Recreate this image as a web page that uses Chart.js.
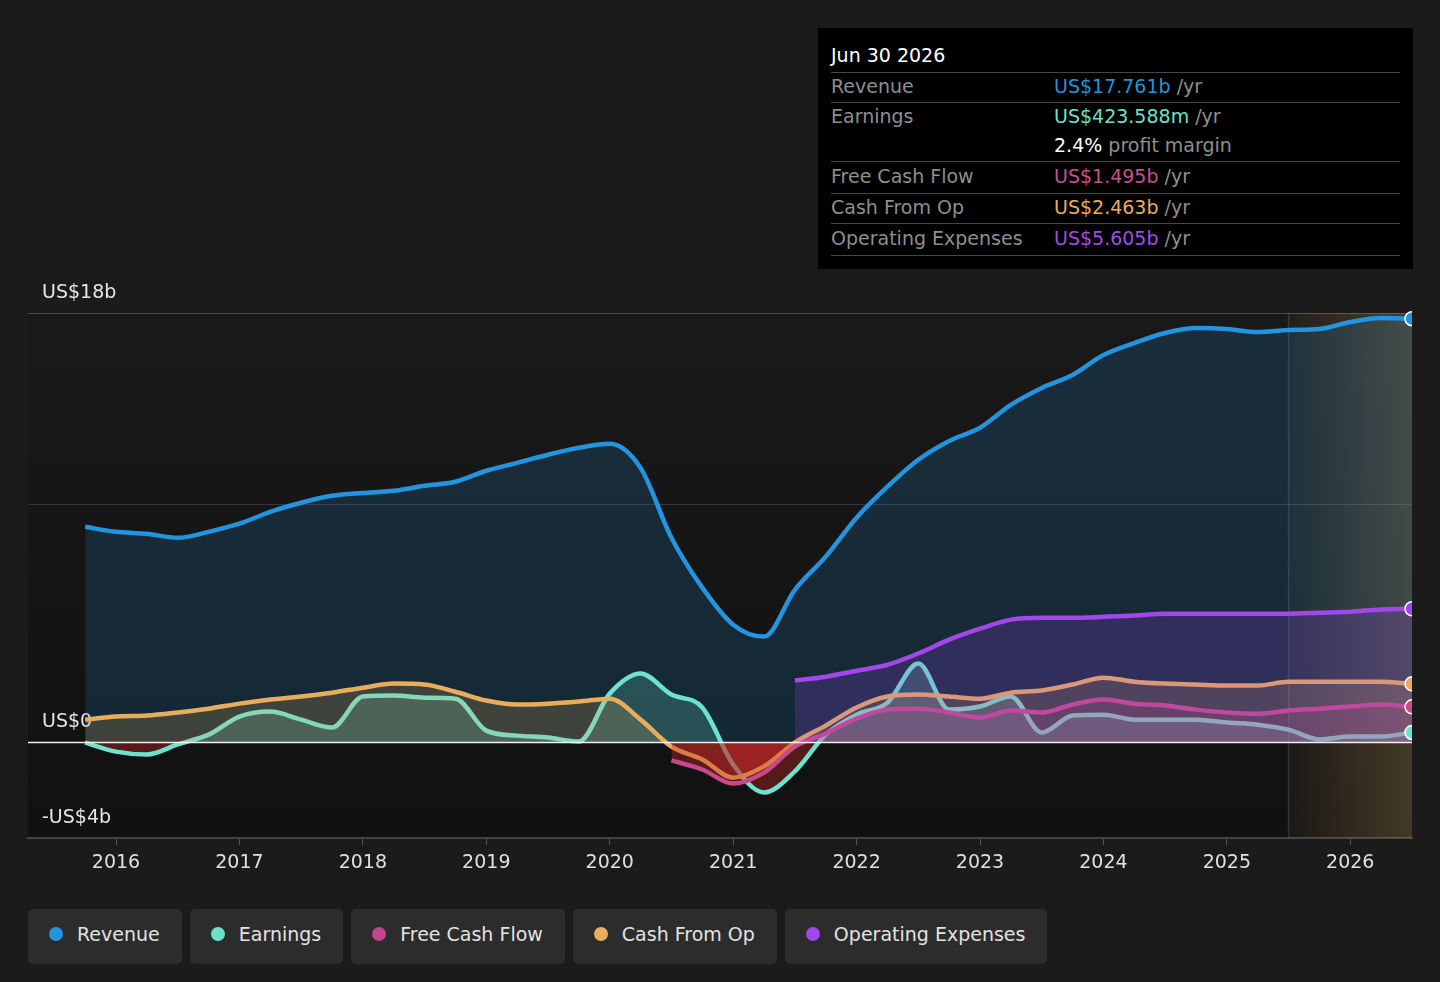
<!DOCTYPE html>
<html>
<head>
<meta charset="utf-8">
<script src="https://cdn.jsdelivr.net/npm/chart.js@4.4.1/dist/chart.umd.min.js"></script>
<style>
html,body{margin:0;padding:0;background:#1b1b1b;width:1440px;height:982px;overflow:hidden;font-family:"DejaVu Sans",sans-serif;}
#wrap{position:absolute;left:0;top:0;width:1440px;height:900px;}
#tip{position:absolute;left:818px;top:28px;width:595px;height:241px;background:#000;box-sizing:border-box;padding:0 13px;font-size:19px;}
#tip .row{display:flex;align-items:center;box-sizing:border-box;border-bottom:1px solid #464646;padding-bottom:4px;}
#tip .row.nb{border-bottom:none;}
#tip .lab{width:223px;color:#8e8e8e;}
#tip .val .u{color:#8e8e8e;}
#tip .title{color:#fff;padding-top:10px;padding-bottom:0;height:45px;}
#legend{position:absolute;left:28px;top:909px;display:flex;gap:8px;}
.li{height:55px;box-sizing:border-box;padding:0 22px 6px 21px;background:#2c2c2c;border-radius:5px;display:flex;align-items:center;color:#e2e2e2;font-size:19px;}
.li .d{width:14px;height:14px;border-radius:50%;margin-right:14px;}
</style>
</head>
<body>
<div id="wrap"><canvas id="c" width="1440" height="900"></canvas></div>
<div id="tip">
  <div class="row title">Jun 30 2026</div>
  <div class="row" style="height:30px"><span class="lab">Revenue</span><span class="val"><span style="color:#2394df">US$17.761b</span> <span class="u">/yr</span></span></div>
  <div class="row nb" style="height:29px"><span class="lab">Earnings</span><span class="val"><span style="color:#6de0c8">US$423.588m</span> <span class="u">/yr</span></span></div>
  <div class="row" style="height:30px"><span class="lab"></span><span class="val"><span style="color:#fff">2.4%</span> <span class="u">profit margin</span></span></div>
  <div class="row" style="height:32px"><span class="lab">Free Cash Flow</span><span class="val"><span style="color:#c9508a">US$1.495b</span> <span class="u">/yr</span></span></div>
  <div class="row" style="height:30px"><span class="lab">Cash From Op</span><span class="val"><span style="color:#e8ad5c">US$2.463b</span> <span class="u">/yr</span></span></div>
  <div class="row" style="height:32px"><span class="lab">Operating Expenses</span><span class="val"><span style="color:#a34be8">US$5.605b</span> <span class="u">/yr</span></span></div>
</div>
<div id="legend">
  <div class="li"><span class="d" style="background:#2394df"></span>Revenue</div>
  <div class="li"><span class="d" style="background:#6de0c8"></span>Earnings</div>
  <div class="li"><span class="d" style="background:#c0478a"></span>Free Cash Flow</div>
  <div class="li"><span class="d" style="background:#e8ae60"></span>Cash From Op</div>
  <div class="li"><span class="d" style="background:#a046ee"></span>Operating Expenses</div>
</div>
<script>
// ---- data (US$ billions, quarterly) ----
const quarters = [2015.75,2016,2016.25,2016.5,2016.75,2017,2017.25,2017.5,2017.75,2018,2018.25,2018.5,2018.75,2019,2019.25,2019.5,2019.75,2020,2020.25,2020.5,2020.75,2021,2021.25,2021.5,2021.75,2022,2022.25,2022.5,2022.75,2023,2023.25,2023.5,2023.75,2024,2024.25,2024.5,2024.75,2025,2025.25,2025.5,2025.75,2026,2026.25,2026.5];
const revenue = [9.04,8.83,8.75,8.58,8.83,9.17,9.67,10.05,10.34,10.46,10.55,10.76,10.93,11.39,11.72,12.06,12.35,12.52,11.51,8.58,6.49,4.94,4.44,6.40,7.79,9.42,10.72,11.85,12.64,13.19,14.15,14.86,15.40,16.24,16.74,17.16,17.37,17.33,17.20,17.29,17.33,17.62,17.79,17.761];
const earnings = [0.0,-0.38,-0.50,-0.08,0.33,1.09,1.30,0.96,0.63,1.93,1.97,1.88,1.84,0.50,0.29,0.21,0.04,2.05,2.89,2.01,1.47,-0.92,-2.09,-1.21,0.33,1.17,1.67,3.31,1.38,1.51,1.93,0.42,1.13,1.17,0.96,0.96,0.96,0.84,0.75,0.54,0.13,0.25,0.25,0.424];
const cashFromOp = [0.96,1.09,1.13,1.26,1.42,1.63,1.80,1.93,2.09,2.30,2.47,2.43,2.13,1.76,1.59,1.63,1.72,1.84,0.96,-0.17,-0.71,-1.47,-1.00,0.0,0.71,1.47,1.93,2.01,1.93,1.84,2.09,2.18,2.43,2.72,2.55,2.47,2.43,2.39,2.39,2.55,2.55,2.55,2.55,2.463];
const freeCashFlow = [null,null,null,null,null,null,null,null,null,null,null,null,null,null,null,null,null,null,null,-0.75,-1.13,-1.72,-1.26,-0.17,0.38,1.00,1.38,1.42,1.26,1.05,1.34,1.26,1.59,1.80,1.63,1.55,1.38,1.26,1.21,1.34,1.42,1.51,1.59,1.495];
const operatingExpenses = [null,null,null,null,null,null,null,null,null,null,null,null,null,null,null,null,null,null,null,null,null,null,null,2.60,2.76,3.01,3.26,3.73,4.31,4.77,5.15,5.23,5.23,5.27,5.32,5.40,5.40,5.40,5.40,5.40,5.44,5.48,5.58,5.605];
const yearTicks = [2016,2017,2018,2019,2020,2021,2022,2023,2024,2025,2026];
const yTicks = [-4,0,10,18];
const yLabels = {'-4':'-US$4b','0':'US$0','10':'','18':'US$18b'};
const forecastStart = 2025.5;

const pts = arr => arr.map((v,i)=>({x:quarters[i], y:v}));
const last = quarters.length-1;

function ds(label, arr, color, fillAbove, order){
  return {
    label, data: pts(arr), order, endColor: color,
    borderColor: color, borderWidth: 4.5,
    fill: {target:'origin', above: fillAbove, below: 'rgba(200,40,40,0.38)'},
    cubicInterpolationMode: 'monotone',
    pointRadius: 0, pointHoverRadius: 0,
    clip: {left:0,right:0,top:6,bottom:0},
    spanGaps:false
  };
}

const bgPlugin = {
  id:'bg',
  beforeDraw(chart){
    const {ctx, chartArea:a, scales} = chart;
    ctx.save();
    const g = ctx.createLinearGradient(0,a.top,0,a.bottom);
    g.addColorStop(0,'#191919'); g.addColorStop(1,'#111111');
    ctx.fillStyle = g;
    ctx.fillRect(a.left,a.top,a.right-a.left,a.bottom-a.top);
    const ys = scales.y;
    yTicks.forEach(v=>{
      if(v===0||v===-4) return;
      const p = Math.round(ys.getPixelForValue(v))+0.5;
      ctx.strokeStyle = v===18 ? '#4a4a4a' : '#363636'; ctx.lineWidth=1;
      ctx.beginPath(); ctx.moveTo(a.left,p); ctx.lineTo(a.right,p); ctx.stroke();
    });
    ctx.restore();
  },
  beforeDatasetsDraw(chart){
    const {ctx, chartArea:a, scales} = chart;
    ctx.save();
    const fx = scales.x.getPixelForValue(forecastStart);
    const fg = ctx.createLinearGradient(fx,0,a.right,0);
    fg.addColorStop(0,'rgba(200,160,90,0.05)'); fg.addColorStop(1,'rgba(200,160,90,0.28)');
    ctx.fillStyle = fg;
    ctx.fillRect(fx,a.top,a.right-fx,a.bottom-a.top);
    ctx.strokeStyle='rgba(255,255,255,0.13)'; ctx.lineWidth=1.5;
    ctx.beginPath(); ctx.moveTo(fx,a.top); ctx.lineTo(fx,a.bottom); ctx.stroke();
    ctx.restore();
  },
  afterDatasetsDraw(chart){
    const {ctx, chartArea:a, scales} = chart;
    const p = scales.y.getPixelForValue(0);
    ctx.save();
    ctx.strokeStyle='#f0f0f0'; ctx.lineWidth=1.5;
    ctx.beginPath(); ctx.moveTo(a.left,p); ctx.lineTo(a.right,p); ctx.stroke();
    // end-point markers, clipped at the chart area like the reference
    ctx.beginPath(); ctx.rect(a.left,a.top-10,a.right-a.left,a.bottom-a.top+20); ctx.clip();
    chart.data.datasets.forEach((d,i)=>{
      const el = chart.getDatasetMeta(i).data[last];
      if(!el) return;
      ctx.beginPath(); ctx.arc(el.x, el.y, 7, 0, Math.PI*2);
      ctx.fillStyle = d.endColor; ctx.fill();
      ctx.lineWidth = 1.5; ctx.strokeStyle = '#ffffff'; ctx.stroke();
    });
    ctx.restore();
  }
};

new Chart(document.getElementById('c'), {
  type:'line',
  data:{ datasets:[
    ds('Operating Expenses', operatingExpenses, '#a346ec', 'rgba(160,70,238,0.20)', 1),
    ds('Free Cash Flow', freeCashFlow, '#c8498a', 'rgba(200,73,138,0.18)', 2),
    ds('Cash From Op', cashFromOp, '#e8ad5c', 'rgba(232,173,92,0.20)', 3),
    ds('Earnings', earnings, '#6de3cf', 'rgba(109,227,207,0.22)', 4),
    ds('Revenue', revenue, '#2394df', 'rgba(35,148,223,0.17)', 5)
  ]},
  options:{
    responsive:false, animation:false, devicePixelRatio:1,
    layout:{padding:{left:28,right:28,top:313,bottom:12}},
    plugins:{legend:{display:false}, tooltip:{enabled:false}},
    events:[],
    scales:{
      x:{
        type:'linear', min:2015.287, max:2026.5,
        afterBuildTicks: s => { s.ticks = yearTicks.map(v=>({value:v})); },
        afterFit: s => { s.height = 50; },
        grid:{drawOnChartArea:false, drawTicks:true, tickLength:7, color:'#555'},
        border:{display:true, color:'#444', width:2},
        ticks:{color:'#e0e0e0', font:{family:'DejaVu Sans', size:19}, padding:7, maxRotation:0, autoSkip:false, callback:v=>String(v)}
      },
      y:{
        min:-4, max:18,
        afterBuildTicks: s => { s.ticks = yTicks.map(v=>({value:v})); },
        afterFit: s => { s.width = 0; },
        grid:{drawTicks:false, color: 'rgba(0,0,0,0)'},
        border:{display:false},
        ticks:{mirror:true, padding:14, labelOffset:-20, autoSkip:false, color:'#e6e6e6', font:{family:'DejaVu Sans', size:19},
          callback: v => yLabels[String(v)]}
      }
    }
  },
  plugins:[bgPlugin]
});
</script>
</body>
</html>
